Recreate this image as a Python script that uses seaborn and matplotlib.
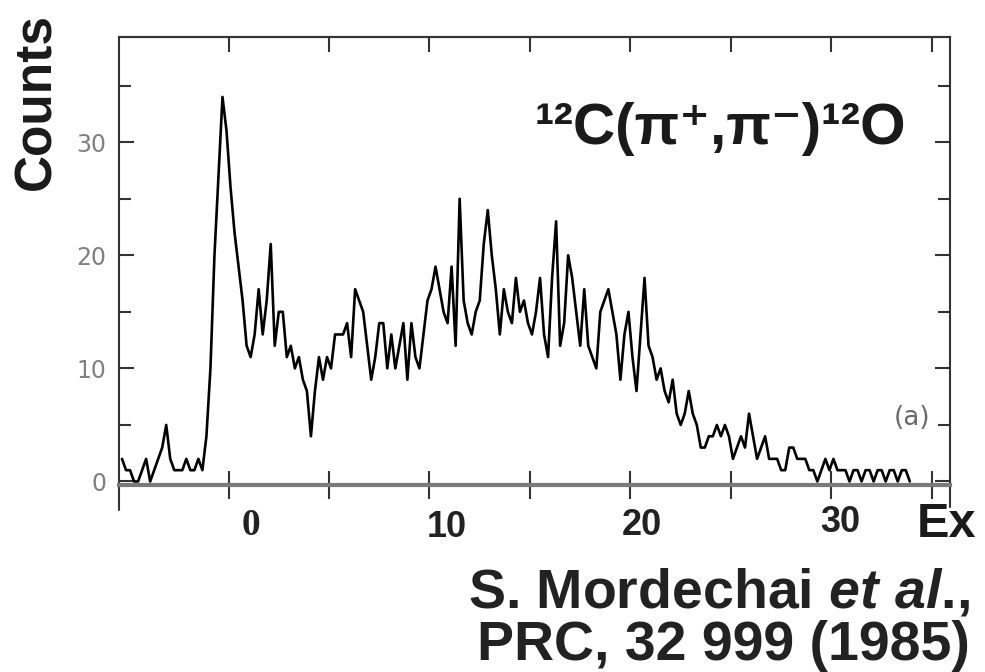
import numpy as np
import pandas as pd
import seaborn as sns
import matplotlib.pyplot as plt

# spectrum: counts per 0.2 MeV bin, first bin centred at -5.3 MeV
e_start = -5.3
bin_width = 0.2
counts = [
    2, 1, 1, 0, 0,       1, 2, 0, 1, 2,       3, 5, 2, 1, 1,       1, 2, 1, 1, 2,
    1, 4, 10, 20, 27,    34, 31, 26, 22, 19,  16, 12, 11, 13, 17,  13, 16, 21, 12, 15,
    15, 11, 12, 10, 11,  9, 8, 4, 8, 11,      9, 11, 10, 13, 13,   13, 14, 11, 17, 16,
    15, 12, 9, 11, 14,   14, 10, 13, 10, 12,  14, 9, 14, 11, 10,   13, 16, 17, 19, 17,
    15, 14, 19, 12, 25,  16, 14, 13, 15, 16,  21, 24, 20, 17, 13,  17, 15, 14, 18, 15,
    16, 14, 13, 15, 18,  13, 11, 18, 23, 12,  14, 20, 18, 15, 12,  17, 12, 11, 10, 15,
    16, 17, 15, 13, 9,   13, 15, 11, 8, 13,   18, 12, 11, 9, 10,   8, 7, 9, 6, 5,
    6, 8, 6, 5, 3,       3, 4, 4, 5, 4,       5, 4, 2, 3, 4,       3, 6, 4, 2, 3,
    4, 2, 2, 2, 1,       1, 3, 3, 2, 2,       2, 1, 1, 0, 1,       2, 1, 2, 1, 1,
    1, 0, 1, 1, 0,       1, 1, 0, 1, 1,       0, 1, 1, 0, 1,       1, 0,
]
energy = np.round(e_start + bin_width * np.arange(len(counts)), 2)
df = pd.DataFrame({'Ex': energy, 'Counts': counts})

x_ticks = [0, 5, 10, 15, 20, 25, 30, 35]
x_labels = ['0', '10', '20', '30']
y_major = [0, 10, 20, 30]
y_minor = [5, 15, 25, 35]
y_labels = ['0', '10', '20', '30']

sns.set_style('white')
plt.rcParams['font.family'] = ['Liberation Sans', 'DejaVu Sans']
plt.rcParams['mathtext.fontset'] = 'custom'
plt.rcParams['mathtext.rm'] = 'Liberation Sans:bold'
plt.rcParams['mathtext.bf'] = 'Liberation Sans:bold'
plt.rcParams['mathtext.it'] = 'Liberation Sans:italic:bold'

W, H = 985, 672
def fx(px):
    return px / W
def fy(py):
    return 1 - py / H

fig = plt.figure(figsize=(9.85, 6.72), dpi=100)
ax = fig.add_axes([fx(119), fy(485), (950 - 119) / W, (485 - 37) / H])

sns.lineplot(data=df, x='Ex', y='Counts', color='black', linewidth=1.9,
             estimator=None, ax=ax)
ax.set_xlim(-5.45, 35.9)
ax.set_ylim(-0.31, 39.3)
ax.set_xlabel('')
ax.set_ylabel('')

for s in ['left', 'right', 'top']:
    ax.spines[s].set_color('#333333')
    ax.spines[s].set_linewidth(1.5)
ax.spines['bottom'].set_color('#7a7a7a')
ax.spines['bottom'].set_linewidth(3)
# the scanned frame runs a little below the axis on both sides
ax.axvline(-5.45, ymin=-0.056, ymax=0, color='#333333', lw=1.5, clip_on=False)
ax.axvline(35.9, ymin=-0.05, ymax=0, color='#333333', lw=1.5, clip_on=False)

ax.set_xticks(x_ticks)
ax.set_xticklabels([])
ax.tick_params(axis='x', which='major', direction='inout', length=20, width=1.5,
               color='#333333', bottom=True, top=False)
top = ax.secondary_xaxis('top')
top.set_xticks(x_ticks)
top.set_xticklabels([])
top.tick_params(direction='in', length=11, width=1.5, color='#333333')
top.spines['top'].set_color('#333333')
top.spines['top'].set_linewidth(1.5)

ax.set_yticks(y_major)
ax.set_yticklabels(y_labels, fontfamily='DejaVu Sans', fontsize=17, color='#808080')
ax.set_yticks(y_minor, minor=True)
ax.tick_params(axis='y', which='both', direction='in', left=True, right=True,
               width=1.5, color='#333333')
ax.tick_params(axis='y', which='major', length=11, pad=9)
ax.tick_params(axis='y', which='minor', length=8.5)

fig.text(fx(37), fy(102), 'Counts', rotation=90, ha='center', va='center',
         fontsize=37, fontweight='bold', color='#1a1a1a')
fig.text(fx(720), fy(144), '¹²C(π⁺,π⁻)¹²O', ha='center', va='baseline',
         fontsize=42, fontweight='bold', color='#1a1a1a',
         family=['Liberation Sans', 'DejaVu Sans'])
fig.text(fx(912), fy(418), '(a)', ha='center', va='center', fontsize=19,
         family='DejaVu Sans', color='#6a6a6a')

# x labels sit a little right of their ticks in the original
fig.text(fx(251), fy(535), x_labels[0], ha='center', va='baseline', fontsize=27,
         family='Liberation Serif', fontweight='bold', color='#222222')
for lab, px, py in zip(x_labels[1:], [447, 642, 840], [537, 535, 532]):
    fig.text(fx(px), fy(py), lab, ha='center', va='baseline', fontsize=26,
             fontweight='bold', color='#222222')
fig.text(fx(947), fy(537), 'Ex', ha='center', va='baseline', fontsize=35,
         fontweight='bold', color='#1a1a1a')

fig.text(fx(970), fy(607), r'S. Mordechai $\mathit{et\ al}$.,', ha='right', va='baseline',
         fontsize=40, fontweight='bold', color='#222222')
fig.text(fx(970), fy(660), 'PRC, 32 999 (1985)', ha='right', va='baseline',
         fontsize=40, fontweight='bold', color='#222222')

fig.savefig('out.png', dpi=100)
